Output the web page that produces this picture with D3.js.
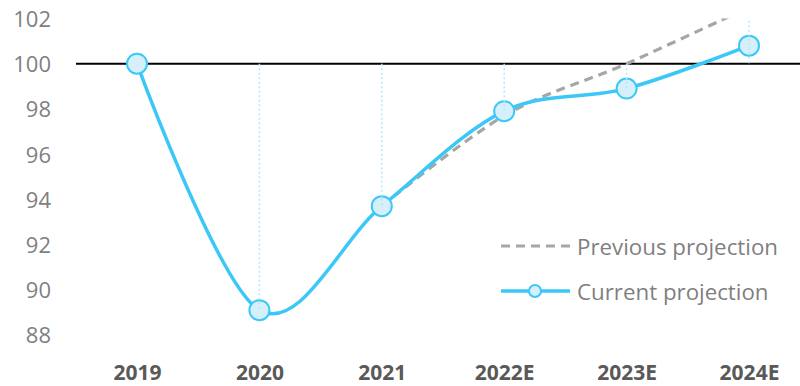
<!DOCTYPE html>
<html><head><meta charset="utf-8">
<script src="https://cdn.jsdelivr.net/npm/d3@7"></script>
<style>body{margin:0;background:#fff}svg{display:block}</style>
</head><body>
<svg id="c" width="800" height="386"></svg>
<script>
const categories = ["2019","2020","2021","2022E","2023E","2024E"];
const currentProjection = [100, 89.1, 93.7, 97.9, 98.9, 100.8];
const previousProjection = [null, null, 93.7, 97.7, 100.0, 102.5];
const yTicks = [88, 90, 92, 94, 96, 98, 100, 102];
const baseline = 100;
const seriesNames = ["Previous projection", "Current projection"];

const svg = d3.select("#c");
const font = "'Open Sans', 'Noto Sans', sans-serif";
const x = d3.scalePoint().domain(categories).range([137, 749]);
const y = d3.scaleLinear().domain([88, 102]).range([335, 18.5]);

svg.append("defs").append("clipPath").attr("id","clip")
  .append("rect").attr("x",76).attr("y",y(102)).attr("width",724).attr("height",y(88)-y(102)+20);

// y axis labels
const yAxis = d3.axisLeft(y).tickValues(yTicks).tickSize(0).tickPadding(0).tickFormat(d3.format("d"));
const ga = svg.append("g").attr("transform","translate(51,0)").call(yAxis);
ga.select(".domain").remove();
ga.selectAll("text").attr("font-family",font).attr("font-size",22).attr("fill","#7f7f7f").attr("dy","0.36em");

// x axis labels
const xAxis = d3.axisBottom(x).tickSize(0).tickPadding(0);
const gx = svg.append("g").attr("transform","translate(0,364)").call(xAxis);
gx.select(".domain").remove();
gx.selectAll("text").attr("font-family",font).attr("font-size",21).attr("font-weight","bold").attr("fill","#595959").attr("dy","0.74em");

// baseline
svg.append("line").attr("x1",76).attr("x2",800).attr("y1",y(baseline)).attr("y2",y(baseline))
  .attr("stroke","#000").attr("stroke-width",2);

const plot = svg.append("g").attr("clip-path","url(#clip)");

const lineGen = d3.line().defined(d=>d.v!=null).x(d=>x(d.c)).y(d=>y(d.v)).curve(d3.curveCatmullRom.alpha(0));
const prevData = categories.map((c,i)=>({c, v: previousProjection[i]}));
const curData = categories.map((c,i)=>({c, v: currentProjection[i]}));

plot.append("path").datum(prevData).attr("d",lineGen).attr("fill","none")
  .attr("stroke","#a6a6a6").attr("stroke-width",3.2).attr("stroke-dasharray","9,6");
plot.append("path").datum(curData).attr("d",lineGen).attr("fill","none")
  .attr("stroke","#3cc8f7").attr("stroke-width",3.5);

// points
plot.selectAll("circle.pt").data(curData).join("circle").attr("class","pt")
  .attr("cx",d=>x(d.c)).attr("cy",d=>y(d.v)).attr("r",10)
  .attr("fill","#d5effb").attr("stroke","#3cc8f7").attr("stroke-width",2);

// drop lines (dotted)
plot.selectAll("line.drop").data(categories.slice(1)).join("line").attr("class","drop")
  .attr("x1",c=>x(c)).attr("x2",c=>x(c))
  .attr("y1",c=>{const i=categories.indexOf(c);return y(Math.max(baseline,currentProjection[i],previousProjection[i]??-Infinity));})
  .attr("y2",c=>{const i=categories.indexOf(c);return y(Math.min(baseline,currentProjection[i]));})
  .attr("stroke","#b3e6fa").attr("stroke-width",1.5).attr("stroke-dasharray","2,2.5");

// legend
const lg = svg.append("g");
lg.append("line").attr("x1",501).attr("x2",570).attr("y1",246).attr("y2",246)
  .attr("stroke","#a6a6a6").attr("stroke-width",3.2).attr("stroke-dasharray","9,6");
lg.append("line").attr("x1",501).attr("x2",570).attr("y1",291).attr("y2",291)
  .attr("stroke","#3cc8f7").attr("stroke-width",3.5);
lg.append("circle").attr("cx",535).attr("cy",291).attr("r",6)
  .attr("fill","#d5effb").attr("stroke","#3cc8f7").attr("stroke-width",2);
lg.selectAll("text").data(seriesNames).join("text")
  .attr("x",577).attr("y",(d,i)=>254.5+i*45)
  .attr("font-family",font).attr("font-size",22.3).attr("fill","#7f7f7f").text(d=>d);
</script>
</body></html>
